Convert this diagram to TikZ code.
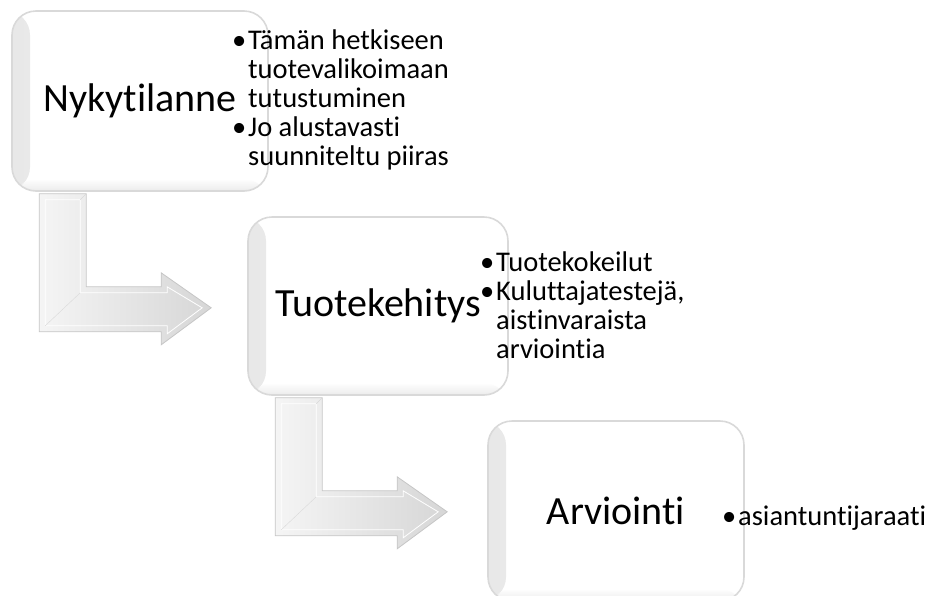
\documentclass[tikz,border=0pt]{standalone}
\usepackage{fontspec}
\setmainfont{Carlito}[Ligatures=NoCommon]
\usetikzlibrary{positioning}

\newcommand{\bul}{\makebox[16pt][l]{•}}
\newcommand{\ind}{\hspace*{16pt}}

\tikzset{
  stagebox/.style={rounded corners=24pt, minimum width=256pt, minimum height=180pt,
    inner sep=0pt, fill=white, draw=gray!30, line width=1.6pt,
    font=\fontsize{40}{46}\selectfont,
    path picture={
      \shade[left color=gray!30, right color=white, opacity=.6]
        (path picture bounding box.north west) rectangle ([xshift=18pt]path picture bounding box.south west);
      \shade[top color=white, bottom color=gray!30, opacity=.5]
        ([yshift=12pt]path picture bounding box.south west) rectangle (path picture bounding box.south east);
    }},
  bullets/.style={align=left, inner sep=0pt, font=\fontsize{28.5}{29}\selectfont},
  arrowbody/.style={draw=gray!45, line width=.8pt, left color=gray!8, right color=gray!32},
  bevel/.style={draw=white, line width=.8pt}
}

\begin{document}
\begin{tikzpicture}[x=1pt, y=-1pt]
  \useasboundingbox (0,0) rectangle (935,595);

  \node[stagebox] (nyky) at (140,101) {Nykytilanne};
  \node[stagebox, minimum width=260pt, minimum height=178pt] (kehitys) at (378,306) {Tuotekehitys};
  \node[stagebox] (arvio) at (616,511) {Arviointi};

  % bent arrows under the first two boxes
  \foreach \b in {nyky,kehitys}{
    \coordinate (\b a) at ([xshift=28pt, yshift=-2pt]\b.south west);
    \draw[arrowbody, shift={(\b a)}] (0,0) -- (47,0) -- (47,93) -- (122,93) -- (122,79)
      -- (172,114) -- (122,151) -- (122,138) -- (0,138) -- cycle;
    \draw[bevel, shift={(\b a)}] (6,6) -- (41,6) -- (41,99) -- (128,99) -- (128,93)
      -- (163,114) -- (128,140) -- (128,132) -- (6,132) -- cycle;
    \draw[draw=gray!30, shift={(\b a)}] (6,132) -- (41,99) (41,6) -- (47,0);
  }

  \node[bullets, anchor=north west] (nykyb) at (232,30)
    {\bul Tämän hetkiseen\\\ind tuotevalikoimaan\\\ind tutustuminen\\\bul Jo alustavasti\\\ind suunniteltu piiras};
  \node[bullets, anchor=north west] (kehitysb) at (480,252)
    {\bul Tuotekokeilut\\\bul Kuluttajatestejä,\\\ind aistinvaraista\\\ind arviointia};
  \node[bullets, anchor=base west] (arviob) at (722,525) {\bul asiantuntijaraati};
\end{tikzpicture}
\end{document}
